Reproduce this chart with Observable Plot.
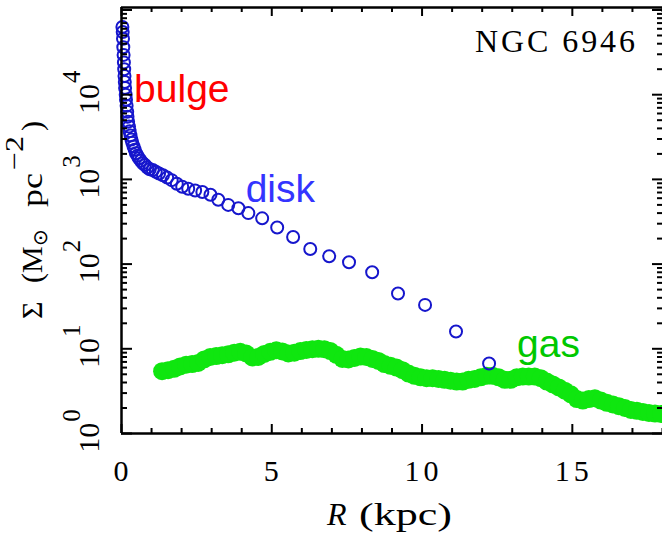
<!DOCTYPE html>
<html><head><meta charset="utf-8">
<script src="https://cdn.jsdelivr.net/npm/d3@7"></script>
<script src="https://cdn.jsdelivr.net/npm/@observablehq/plot@0.6"></script>
<style>
html,body{margin:0;padding:0;background:#fff;}
#chart svg{display:block;}
</style></head><body><div id="chart"></div>
<script>
// ---- data ----
const diskR = [0.03,0.04,0.05,0.06,0.07,0.08,0.09,0.10,0.11,0.12,0.14,0.15,0.17,0.19,0.20,0.22,0.25,0.27,0.30,0.33,0.36,0.40,0.44,0.48,0.53,0.58,0.64,0.71,0.78,0.86,0.94,1.04,1.14,1.25,1.38,1.52,1.67,1.84,2.02,2.22,2.45,2.69,2.96,3.22,3.55,3.89,4.22,4.68,5.18,5.71,6.28,6.91,7.57,8.34,9.20,10.10,11.13,12.23];
const diskSigma = [63000,55000,45700,36300,29500,24000,20000,16600,14100,12000,10000,8700,7400,6300,5500,4800,4200,3700,3300,2950,2700,2450,2240,2040,1900,1780,1660,1550,1480,1380,1320,1290,1230,1175,1120,1050,980,890,820,775,740,710,660,575,500,457,400,347,270,209,151,124,105,80,45,33,16,6.7];

const gasR = [1.35,1.55,1.75,1.95,2.15,2.35,2.55,2.75,2.95,3.15,3.35,3.55,3.75,3.95,4.15,4.35,4.55,4.75,4.95,5.15,5.35,5.55,5.75,5.95,6.15,6.35,6.55,6.75,6.95,7.15,7.35,7.55,7.75,7.95,8.15,8.35,8.55,8.75,8.95,9.15,9.35,9.55,9.75,9.95,10.15,10.35,10.55,10.75,10.95,11.15,11.35,11.55,11.75,11.95,12.15,12.35,12.55,12.75,12.95,13.15,13.35,13.55,13.75,13.95,14.15,14.35,14.55,14.75,14.95,15.15,15.35,15.55,15.75,15.95,16.15,16.35,16.55,16.75,16.95,17.15,17.35,17.55,17.75,17.95];
const gasSigma = [5.45,5.6,5.8,6.2,6.5,6.6,6.8,7.5,8.0,8.2,8.4,8.6,9.0,9.2,8.8,7.9,8.0,8.7,9.2,9.6,9.3,8.8,9.0,9.4,9.7,9.9,10.0,9.9,9.4,8.5,7.6,7.5,7.8,8.1,8.0,7.6,7.2,6.6,6.3,6.0,5.6,5.1,4.8,4.6,4.5,4.5,4.4,4.3,4.2,4.1,4.1,4.3,4.4,4.6,4.8,4.8,4.6,4.3,4.3,4.6,4.7,4.7,4.7,4.5,4.1,3.8,3.5,3.2,2.9,2.55,2.45,2.55,2.6,2.45,2.3,2.2,2.1,2.0,1.9,1.85,1.8,1.75,1.72,1.7];

const labelText = ["bulge", "disk", "gas"];
const labelR = [0.42, 4.13, 13.16];
const labelSigma = [8150, 538, 7.96];
const labelColor = ["#ff0000", "#3434ff", "#00c800"];

const xMajorTicks = [0, 5, 10, 15];
const xMinorTicks = [1,2,3,4,6,7,8,9,11,12,13,14,16,17,18];
const xTickLabels = ["0", "5", "10", "15"];
const yMajorTicks = [1, 10, 100, 1000, 10000, 100000];
const yLabelDecades = [1, 10, 100, 1000, 10000];
const yLabelExponents = ["0", "1", "2", "3", "4"];
const yMinorTicks = [];
for (const d of [1, 10, 100, 1000, 10000]) for (let m = 2; m <= 9; m++) yMinorTicks.push(m * d);

const titleText = "NGC 6946";

// ---- tables ----
const disk = diskR.map((R, i) => ({R, S: diskSigma[i]}));
const gas = gasR.map((R, i) => ({R, S: gasSigma[i]}));

const W = 662, H = 536, mL = 121, mR = 0, mT = 7, mB = 103;
const fw = W - mL - mR, fh = H - mT - mB;
const axisCol = "#000";

const labelMarks = labelText.map((t, i) => Plot.text([t], {
  x: () => labelR[i], y: () => labelSigma[i], text: d => d,
  fill: labelColor[i], fontSize: 39, fontFamily: "'Liberation Sans', Arial, sans-serif",
  textAnchor: "start", lineAnchor: "bottom"
}));

const chart = Plot.plot({
  width: W, height: H,
  marginLeft: mL, marginRight: mR, marginTop: mT, marginBottom: mB,
  x: {domain: [0, 18], axis: null},
  y: {type: "log", domain: [1, 107000], axis: null},
  style: {background: "white", overflow: "visible"},
  marks: [
    Plot.dot(gas, {x: "R", y: "S", r: 9, fill: "#0fe60f", stroke: "none"}),
    Plot.dot(disk, {x: "R", y: "S", r: 6, stroke: "#1616cc", strokeWidth: 2, fill: "none"}),
    ...labelMarks,
    // frame lines
    Plot.ruleX([0], {stroke: axisCol, strokeWidth: 2.5}),
    Plot.ruleY([1], {stroke: axisCol, strokeWidth: 2.5}),
    Plot.ruleY([107000], {stroke: axisCol, strokeWidth: 2.5}),
    // bottom ticks
    Plot.tickX(xMajorTicks, {x: d => d, insetTop: fh - 9, stroke: axisCol, strokeWidth: 2}),
    Plot.tickX(xMinorTicks, {x: d => d, insetTop: fh - 5, stroke: axisCol, strokeWidth: 2}),
    // top ticks
    Plot.tickX(xMajorTicks, {x: d => d, insetBottom: fh - 9, stroke: axisCol, strokeWidth: 2}),
    Plot.tickX(xMinorTicks, {x: d => d, insetBottom: fh - 5, stroke: axisCol, strokeWidth: 2}),
    // left ticks
    Plot.tickY(yMajorTicks, {y: d => d, insetRight: fw - 11, stroke: axisCol, strokeWidth: 2}),
    Plot.tickY(yMinorTicks, {y: d => d, insetRight: fw - 6, stroke: axisCol, strokeWidth: 2}),
    // right ticks
    Plot.tickY(yMajorTicks, {y: d => d, insetLeft: fw - 10, stroke: axisCol, strokeWidth: 2}),
    Plot.tickY(yMinorTicks, {y: d => d, insetLeft: fw - 5, stroke: axisCol, strokeWidth: 2})
  ]
});

document.getElementById("chart").appendChild(chart);

// ---- serif texts positioned with Plot's own scales ----
const xs = chart.scale("x"), ys = chart.scale("y");
const x0 = xs.apply(0), x1 = xs.range[1];
const yb = ys.apply(1), yt = ys.apply(107000);
const svg = d3.select(chart);
const g = svg.append("g")
  .attr("font-family", "'Liberation Serif', 'Times New Roman', serif")
  .attr("text-anchor", "start")
  .attr("fill", "#000");

// x tick labels
xMajorTicks.forEach((v, i) => {
  g.append("text")
    .attr("x", xs.apply(v) + (xTickLabels[i].length > 1 ? 2 : 0))
    .attr("y", yb + 48)
    .attr("text-anchor", "middle")
    .attr("font-size", 30)
    .attr("letter-spacing", xTickLabels[i].length > 1 ? 4 : 0)
    .text(xTickLabels[i]);
});

// y tick labels (10^n, rotated)
yLabelDecades.forEach((v, i) => {
  const t = g.append("text")
    .attr("transform", `translate(${x0 - 22},${ys.apply(v) - 2}) rotate(-90)`)
    .attr("text-anchor", "middle")
    .attr("font-size", 30);
  t.append("tspan").text("10");
  t.append("tspan").attr("font-size", 25).attr("dy", -19).attr("dx", 1).text(yLabelExponents[i]);
});

// x axis title: R (kpc)
g.append("text").attr("x", x0 + 206).attr("y", yb + 92).attr("font-size", 32)
  .attr("font-style", "italic").text("R");
g.append("text").attr("x", x0 + 238).attr("y", yb + 92).attr("font-size", 32)
  .attr("textLength", 93).attr("lengthAdjust", "spacingAndGlyphs").text("(kpc)");

// y axis title: Σ (M⊙ pc^−2)
const yc = (yb + yt) / 2;
function rot(x, y, txt, size, extra) {
  const t = g.append("text")
    .attr("transform", `translate(${x},${y}) rotate(-90)`)
    .attr("text-anchor", "start")
    .attr("font-size", size).text(txt);
  if (extra) extra(t);
  return t;
}
rot(42, yc + 99, "\u03A3", 30);
rot(42, yc + 63, "(M", 30);
rot(47, yc + 26, "\u2299", 20, t => t.attr("font-family", "'DejaVu Sans', sans-serif"));
rot(42, yc - 13, "pc", 30, t => t.attr("textLength", 34).attr("lengthAdjust", "spacingAndGlyphs"));
rot(23, yc - 50, "\u22122", 26, t => t.attr("textLength", 34).attr("lengthAdjust", "spacingAndGlyphs"));
rot(42, yc - 89, ")", 30);

// title
g.append("text")
  .attr("x", x1 - 187).attr("y", yt + 45)
  .attr("font-size", 32)
  .attr("textLength", 160).attr("lengthAdjust", "spacing")
  .text(titleText);
</script></body></html>
